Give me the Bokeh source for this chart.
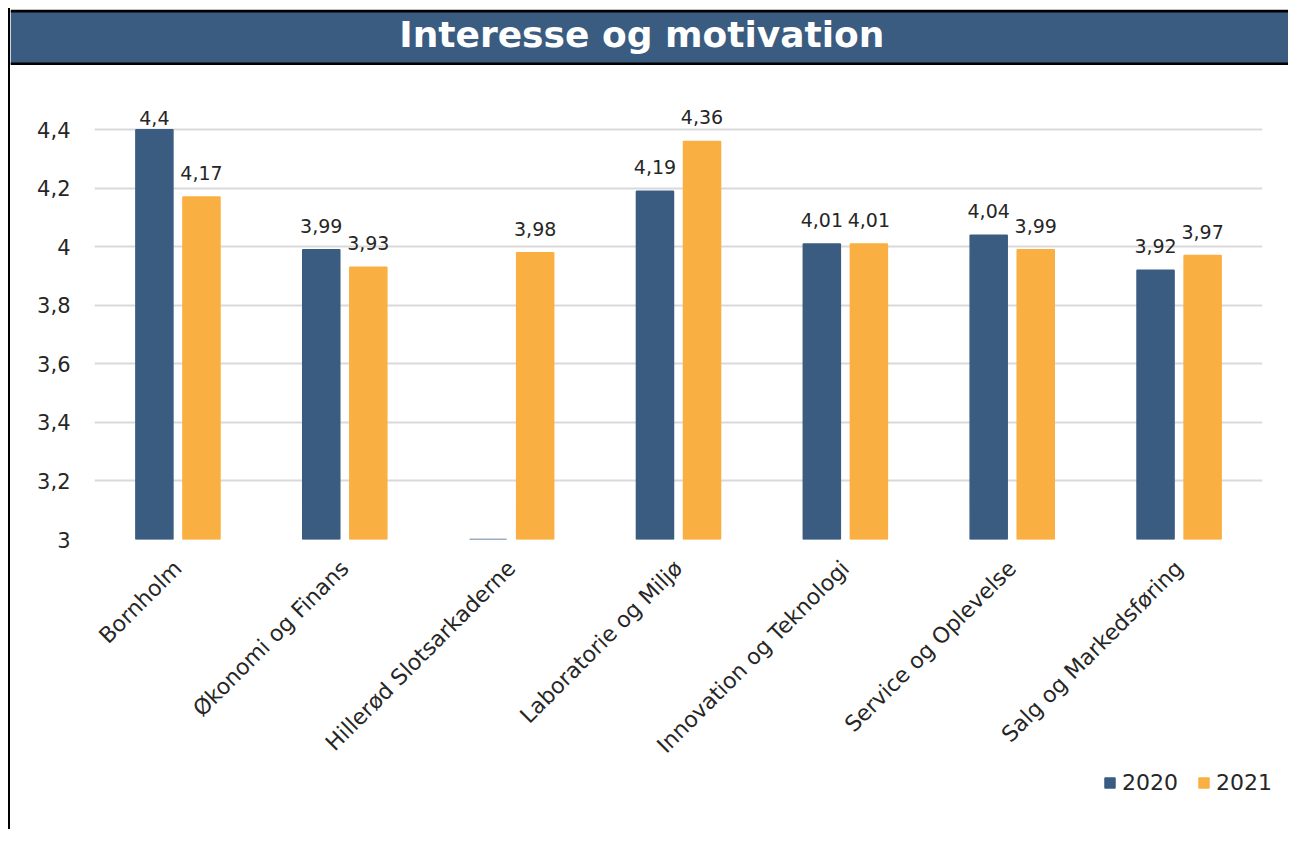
import numpy as np
from bokeh.plotting import figure
from bokeh.models import (ColumnDataSource, FactorRange, Range1d, FixedTicker,
                          CustomJSTickFormatter, LabelSet, Legend, LegendItem, Span)
from bokeh.layouts import column
from bokeh.transform import dodge
from bokeh.core.properties import value
from bokeh.embed import file_html
from bokeh.resources import INLINE

# ---------------- data ----------------
title_text = "Interesse og motivation"
categories = ["Bornholm", "Økonomi og Finans", "Hillerød Slotsarkaderne",
              "Laboratorie og Miljø", "Innovation og Teknologi",
              "Service og Oplevelse", "Salg og Markedsføring"]
values_2020 = [4.40, 3.99, 0.0, 4.19, 4.01, 4.04, 3.92]
values_2021 = [4.17, 3.93, 3.98, 4.36, 4.01, 3.99, 3.97]
series_names = ["2020", "2021"]
y_ticks = [3.0, 3.2, 3.4, 3.6, 3.8, 4.0, 4.2, 4.4]
y_min, y_max = 3.0, 4.5

# ---------------- style ----------------
BLUE = "#3A5C80"
ORANGE = "#FAAF42"
TXT = "#262626"
FONT = "DejaVu Sans"
W = 1278


def make_src(vals):
    vals = np.array(vals, dtype=float)
    top = np.maximum(vals, y_min)
    lbl = [f"{v:g}".replace(".", ",") if v >= y_min else "" for v in vals]
    off = [5 if v >= y_ticks[-1] else 17 for v in vals]
    return ColumnDataSource(dict(cat=categories, val=vals, top=top, label=lbl, off=off))


src20 = make_src(values_2020)
src21 = make_src(values_2021)

# ---------------- title bar ----------------
t = figure(width=W, height=57, x_range=Range1d(0, 1), y_range=Range1d(-0.03, 1.03),
           output_backend="svg", toolbar_location=None, x_axis_type=None, y_axis_type=None,
           min_border_left=0, min_border_right=0, min_border_bottom=0, min_border_top=1)
t.frame_align = False
t.grid.visible = False
t.background_fill_color = "white"
t.border_fill_color = "white"
t.outline_line_color = None
t.quad(left=[0], right=[1], bottom=[0], top=[1], fill_color=BLUE, line_color=None)
t.text(x=[0.494], y=[0.55], text=[title_text], text_font=value(FONT),
       text_font_style="bold", text_font_size="36px", text_color="white",
       text_align="center", text_baseline="middle")
t.add_layout(Span(location=1, dimension="width", line_color="black", line_width=3))
t.add_layout(Span(location=0, dimension="width", line_color="black", line_width=3))

# ---------------- main chart ----------------
p = figure(x_range=FactorRange(*categories), y_range=Range1d(y_min, y_max),
           width=W, height=704, output_backend="svg", toolbar_location=None,
           min_border_left=84, min_border_right=26, min_border_top=35, min_border_bottom=229)
p.frame_align = False
p.outline_line_color = None
p.background_fill_color = "white"
p.border_fill_color = "white"

off = 0.141
bw = 0.222
r20 = p.vbar(x=dodge("cat", -off, range=p.x_range), top="top", bottom=y_min, width=bw,
             source=src20, fill_color=BLUE, line_color=BLUE, line_width=1.5)
r21 = p.vbar(x=dodge("cat", off, range=p.x_range), top="top", bottom=y_min, width=bw,
             source=src21, fill_color=ORANGE, line_color=ORANGE, line_width=1.5)

for src, dx in ((src20, -off), (src21, off)):
    p.add_layout(LabelSet(x=dodge("cat", dx, range=p.x_range), y="top", text="label",
                          y_offset="off", source=src, text_align="center",
                          text_baseline="alphabetic", text_font=value(FONT),
                          text_font_size="19px", text_color=TXT))

p.yaxis.ticker = FixedTicker(ticks=y_ticks)
p.yaxis.formatter = CustomJSTickFormatter(
    code="return (Math.round(tick*10)/10).toString().replace('.', ',');")
p.yaxis.axis_line_color = None
p.yaxis.major_tick_line_color = None
p.yaxis.minor_tick_line_color = None
p.yaxis.major_label_standoff = 18
p.yaxis.major_label_text_font = FONT
p.yaxis.major_label_text_font_size = "21px"
p.yaxis.major_label_text_color = TXT

p.xaxis.major_label_orientation = np.pi / 4
p.xaxis.axis_line_color = None
p.xaxis.major_tick_line_color = None
p.xaxis.major_label_standoff = 19
p.xaxis.major_label_text_font = FONT
p.xaxis.major_label_text_font_size = "22px"
p.xaxis.major_label_text_color = TXT

p.xgrid.grid_line_color = None
p.ygrid.ticker = FixedTicker(ticks=y_ticks)
p.ygrid.grid_line_color = "#D9D9D9"
p.ygrid.grid_line_width = 2

# ---------------- legend strip ----------------
lg = figure(width=W, height=60, x_range=Range1d(0, 1), y_range=Range1d(0, 1),
            output_backend="svg", toolbar_location=None, x_axis_type=None, y_axis_type=None,
            min_border=0)
lg.frame_align = False
lg.grid.visible = False
lg.outline_line_color = None
lg.background_fill_color = "white"
lg.border_fill_color = "white"
key_src = ColumnDataSource(dict(x=[np.nan], top=[np.nan]))
k20 = lg.vbar(x="x", top="top", width=0.1, source=key_src, fill_color=BLUE, line_color=BLUE)
k21 = lg.vbar(x="x", top="top", width=0.1, source=key_src, fill_color=ORANGE, line_color=ORANGE)
legend = Legend(items=[LegendItem(label=series_names[0], renderers=[k20]),
                       LegendItem(label=series_names[1], renderers=[k21])],
                orientation="horizontal", location=(1093, 34),
                background_fill_alpha=0, border_line_color=None, padding=0, margin=0,
                spacing=19, label_standoff=6, glyph_width=13, glyph_height=13,
                label_text_font=FONT, label_text_font_size="22px", label_text_color=TXT)
lg.add_layout(legend)

layout = column(t, p, lg, spacing=0,
                styles={"border-left": "2px solid black", "margin": "8px 0 0 8px"})

open("out.html", "w").write(file_html(layout, INLINE))
